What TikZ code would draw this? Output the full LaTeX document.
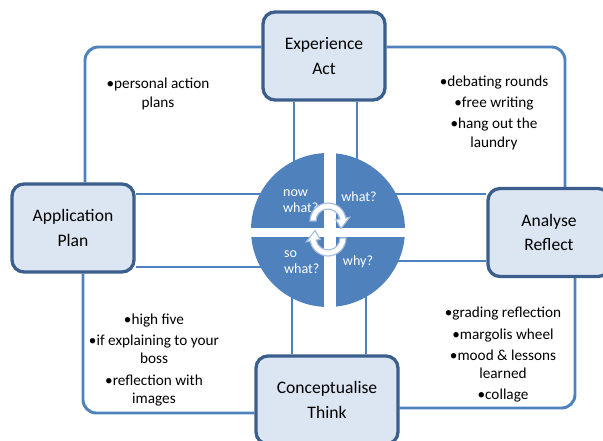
\documentclass[tikz,border=0pt]{standalone}
\usepackage{fontspec}
\setmainfont{Carlito}
\usepackage{tikz}
\usetikzlibrary{backgrounds}
\usetikzlibrary{calc}
\usetikzlibrary{positioning}
\definecolor{quadblue}{RGB}{79,129,189}
\definecolor{edgeblue}{RGB}{59,94,140}
\definecolor{fillblue}{RGB}{220,230,242}
\definecolor{cycblue}{RGB}{167,191,222}

\begin{document}
\begin{tikzpicture}[
  x=0.03cm, y=0.03cm,
  every node/.style={font=\fontsize{13}{16}\selectfont},
  box/.style={
    draw=edgeblue, fill=fillblue, rounded corners=0.36cm,
    line width=2.8pt, align=center,
    minimum width=3.66cm, minimum height=2.64cm,
    font=\fontsize{15}{21}\selectfont
  },
  link/.style={draw=quadblue, line width=2.5pt},
  loop/.style={link, rounded corners=0.4cm},
  note/.style={align=center},
  quad/.style={text=white, align=left, font=\fontsize{12}{13.5}\selectfont},
  cyc/.style={fill=white, draw=cycblue, line width=1pt}
]
\useasboundingbox (0,0) rectangle (603,441);

% Nodes
\node[box] (exp) at (324,385) {Experience\\Act};
\node[box] (app) at (73,213) {Application\\Plan};
\node[box] (ana) at (549,208.5) {Analyse\\Reflect};
\node[box, minimum width=4.26cm] (con) at (327,41) {Conceptualise\\Think};
\node[circle, minimum size=4.62cm, inner sep=0pt] (hub) at (328,211) {};

% Lines
\begin{scope}[on background layer]
\draw[loop] ([shift={(0,9)}]exp.west) -| ([shift={(12,0)}]app.north);
\draw[loop] ([shift={(0,9)}]exp.east) -| ([shift={(16,0)}]ana.north);
\draw[loop] ([shift={(26,0)}]ana.south) |- ([shift={(0,-8)}]con.east);
\draw[loop] ([shift={(10,0)}]app.south) |- ([shift={(0,-13)}]con.west);

\draw[link] ([shift={(-30,0)}]exp.south) -- ([shift={(-34,0)}]hub.center);
\draw[link] ([shift={(33,0)}]exp.south) -- ([shift={(29,0)}]hub.center);
\draw[link] ([shift={(0,34)}]app.east) -- ([shift={(0,36)}]hub.center);
\draw[link] ([shift={(0,-39)}]app.east) -- ([shift={(0,-37)}]hub.center);
\draw[link] ([shift={(0,38.5)}]ana.west) -- ([shift={(0,36)}]hub.center);
\draw[link] ([shift={(0,-28.5)}]ana.west) -- ([shift={(0,-31)}]hub.center);
\draw[link] ([shift={(-35,0)}]con.north) -- ([shift={(-36,0)}]hub.center);
\draw[link] ([shift={(39,0)}]con.north) -- ([shift={(38,0)}]hub.center);

% quarters of the hub
\fill[quadblue] (hub.center) circle[radius=77];
\begin{scope}
\clip (hub.center) circle[radius=78];
\fill[white] ([shift={(-4,-80)}]hub.center) rectangle ([shift={(8,80)}]hub.center);
\fill[white] ([shift={(-80,-7)}]hub.center) rectangle ([shift={(80,2)}]hub.center);
\end{scope}
\end{scope}

\node[quad, anchor=west] (qnow) at (279,240) {now\\what?};
\node[quad] (qwhat) at (359,244) {what?};
\node[quad, anchor=west] (qso) at (280,179) {so\\what?};
\node[quad] (qwhy) at (358,179) {why?};

% cycle arrows
\coordinate (ta) at (328,220);
\coordinate (tb) at (328,203);
\filldraw[cyc] ($(ta)+(180:18)$) arc[start angle=180, end angle=10, radius=18]
  -- ($(ta)+(10:22)$) -- ($(ta)+(-30:15)$) -- ($(ta)+(10:8)$)
  -- ($(ta)+(10:12)$) arc[start angle=10, end angle=180, radius=12] -- cycle;
\filldraw[cyc] ($(tb)+(0:18)$) arc[start angle=0, end angle=-170, radius=18]
  -- ($(tb)+(-170:22)$) -- ($(tb)+(150:15)$) -- ($(tb)+(-170:8)$)
  -- ($(tb)+(-170:12)$) arc[start angle=-170, end angle=0, radius=12] -- cycle;

% Notes
\node[note] (nplan) at (158,347) {\textbullet{}personal action\\plans};
\node[note] (ndo) at (494,328)
  {\textbullet{}debating rounds\\[2pt]\textbullet{}free writing\\[2pt]\textbullet{}hang out the\\laundry};
\node[note] (nhigh) at (154,81)
  {\textbullet{}high five\\[2pt]\textbullet{}if explaining to your\\boss\\[2pt]\textbullet{}reflection with\\images};
\node[note] (ngrade) at (503,86)
  {\textbullet{}grading reflection\\[2pt]\textbullet{}margolis wheel\\[2pt]\textbullet{}mood \& lessons\\learned\\[2pt]\textbullet{}collage};
\end{tikzpicture}
\end{document}
